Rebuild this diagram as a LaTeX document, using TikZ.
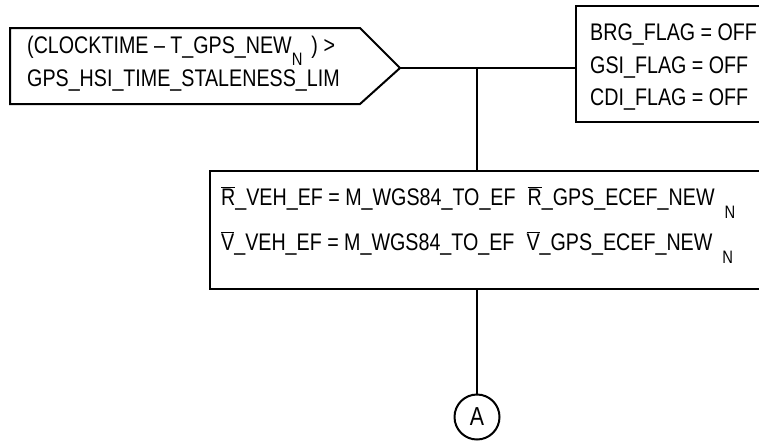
\documentclass[tikz,border=0pt]{standalone}
\usepackage{fontspec}
\setmainfont[FakeStretch=0.82]{Liberation Sans}
\usetikzlibrary{calc}
\newcommand\mysub[2]{\raisebox{-#1}{\fontsize{18}{18}\selectfont #2}}
\newcommand\myovl[1]{\ensuremath{\overline{\mbox{#1}}}}
\tikzset{
  shapeline/.style={draw=black, line width=2pt, line join=miter},
  conline/.style={draw=black, line width=2pt},
  txt/.style={inner sep=0pt, anchor=base west, font=\fontsize{24}{24}\selectfont},
  rectbox/.style={shapeline, anchor=north west, inner sep=0pt},
}
\begin{document}
\begin{tikzpicture}[x=1pt,y=-1pt]
\useasboundingbox (0,0) rectangle (759,442);
% decision shape
\draw[shapeline] (10,28) -- (360,28) -- (400,68) coordinate (ctip) -- (360,104) -- (10,104) -- cycle;
\node[txt] (c1) at (27,53) {(CLOCKTIME – T\_GPS\_NEW\mysub{12pt}{N}\hspace{9pt}) >};
\node[txt] (c2) at (27,86) {GPS\_HSI\_TIME\_STALENESS\_LIM};
% flags box
\node[rectbox, minimum width=200pt, minimum height=116pt] (flags) at (575,5) {};
\node[txt] (f1) at (590,40) {BRG\_FLAG = OFF};
\node[txt] (f2) at (590,73) {GSI\_FLAG = OFF};
\node[txt] (f3) at (590,105) {CDI\_FLAG = OFF};
% assignment box
\node[rectbox, minimum width=570pt, minimum height=118pt] (assign) at (209,170) {};
\node[txt] (a1) at (221,205) {\myovl{R}\_VEH\_EF = M\_WGS84\_TO\_EF\hspace{12pt}\myovl{R}\_GPS\_ECEF\_NEW\hspace{10pt}\mysub{13pt}{N}};
\node[txt] (a2) at (221,250) {\myovl{V}\_VEH\_EF = M\_WGS84\_TO\_EF\hspace{12pt}\myovl{V}\_GPS\_ECEF\_NEW\hspace{10pt}\mysub{13pt}{N}};
% connector
\node[draw=black, line width=2pt, circle, minimum size=45pt, inner sep=0pt, font=\fontsize{26}{26}\selectfont] (conA) at (477,417) {A};
% connectors
\coordinate (junc) at (477,68);
\draw[conline] (ctip) -- (ctip -| flags.west);
\draw[conline] (junc) -- (junc |- assign.north);
\draw[conline] (assign.south -| junc) -- (conA.north);
\end{tikzpicture}
\end{document}
